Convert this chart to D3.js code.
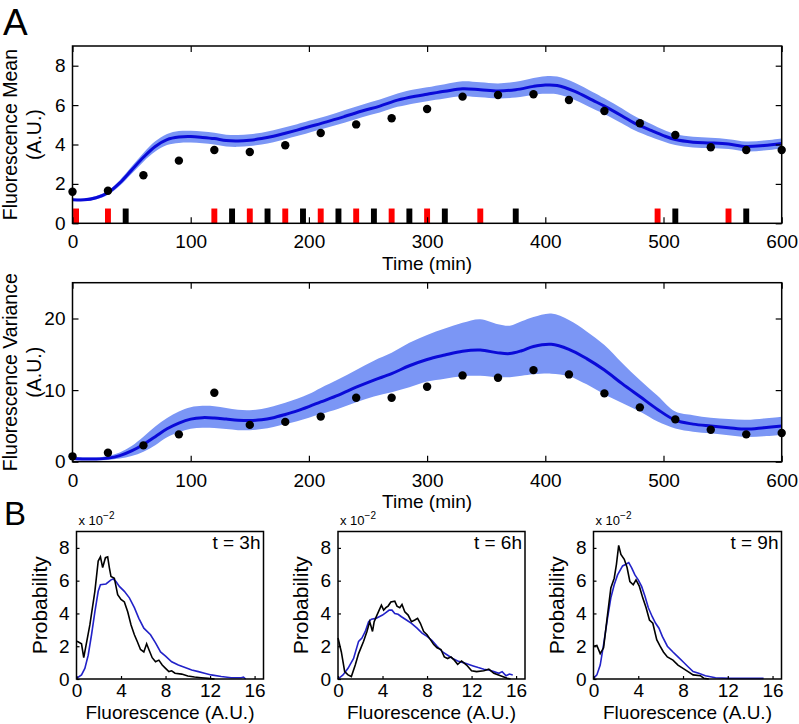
<!DOCTYPE html>
<html><head><meta charset="utf-8">
<script src="https://cdn.jsdelivr.net/npm/d3@7/dist/d3.min.js"></script>
<style>
body{margin:0;background:#fff;}
svg text{font-family:"Liberation Sans",Arial,Helvetica,sans-serif;fill:#000;}
</style></head><body>
<svg id="chart" width="799" height="724"></svg>
<script>
// ---------- Panel A data ----------
const obsTime = [0,30,60,90,120,150,180,210,240,270,300,330,360,390,420,450,480,510,540,570,600];
const meanObs = [1.6,1.65,2.44,3.18,3.72,3.62,3.96,4.58,5.02,5.33,5.8,6.43,6.51,6.55,6.26,5.7,5.08,4.48,3.86,3.72,3.72];
const varObs  = [0.75,1.26,2.28,3.82,9.63,5.14,5.56,6.3,8.93,8.93,10.46,12.05,11.72,12.79,12.19,9.54,7.59,5.91,4.46,3.82,4.0];

const fitTimeM = [0,10,20,30,40,50,60,70,80,90,100,110,120,130,140,150,160,170,180,190,200,215,230,245,260,275,290,300,315,330,345,360,375,390,400,410,425,440,450,465,475,490,500,510,525,540,555,570,585,600];
const fitMean  = [1.2,1.19,1.3,1.55,2.05,2.7,3.35,3.9,4.25,4.38,4.4,4.36,4.3,4.2,4.18,4.22,4.3,4.42,4.57,4.73,4.9,5.15,5.42,5.7,5.95,6.25,6.45,6.55,6.7,6.83,6.78,6.72,6.78,6.95,7.02,7.0,6.7,6.25,5.95,5.45,5.1,4.7,4.45,4.25,4.12,4.08,4.02,3.9,3.95,4.05];
const fitMeanLo= [1.15,1.13,1.22,1.45,1.91,2.52,3.13,3.64,3.97,4.08,4.1,4.06,4.0,3.9,3.88,3.92,4.0,4.12,4.27,4.43,4.6,4.85,5.1,5.38,5.62,5.91,6.1,6.2,6.34,6.45,6.4,6.34,6.38,6.53,6.57,6.55,6.26,5.83,5.55,5.07,4.74,4.37,4.15,3.97,3.85,3.82,3.77,3.65,3.7,3.8];
const fitMeanHi= [1.25,1.25,1.38,1.65,2.19,2.88,3.57,4.16,4.53,4.68,4.7,4.66,4.6,4.5,4.48,4.52,4.6,4.72,4.87,5.03,5.2,5.45,5.74,6.02,6.28,6.59,6.8,6.9,7.06,7.21,7.16,7.1,7.18,7.37,7.47,7.45,7.14,6.67,6.35,5.83,5.46,5.03,4.75,4.53,4.39,4.34,4.27,4.15,4.2,4.3];

const fitTimeV = [0,10,20,30,40,50,60,70,80,90,100,110,120,130,140,150,160,170,180,190,200,210,225,240,255,270,285,300,315,330,345,360,370,380,390,405,420,435,450,465,480,495,510,525,540,555,570,585,600];
const fitVar   = [0.45,0.38,0.38,0.5,0.85,1.5,2.4,3.5,4.6,5.4,5.95,6.15,6.1,5.95,5.8,5.75,5.85,6.15,6.6,7.1,7.7,8.35,9.3,10.4,11.4,12.3,13.4,14.28,14.9,15.44,15.6,15.2,15.1,15.5,16.1,16.4,15.7,14.4,12.8,10.9,9.1,7.3,5.8,5.25,4.98,4.75,4.55,4.75,4.98];
const fitVarLo = [0.25,0.2,0.2,0.25,0.45,0.8,1.4,2.3,3.4,4.1,4.6,4.75,4.7,4.55,4.4,4.4,4.55,4.85,5.25,5.65,6.15,6.65,7.4,8.3,9.1,9.7,10.4,11.2,11.6,11.95,12.0,11.8,11.8,12.0,12.2,12.3,11.95,10.8,9.4,8.2,7.0,5.6,4.65,4.2,3.96,3.7,3.45,3.55,3.72];
const fitVarHi = [0.7,0.6,0.6,0.8,1.3,2.2,3.5,4.9,6.1,7.0,7.6,7.8,7.75,7.5,7.25,7.2,7.35,7.75,8.25,8.8,9.45,10.3,11.5,12.8,14.1,15.2,16.6,17.7,18.6,19.4,19.9,19.2,19.0,19.6,20.2,20.7,19.8,18.2,16.3,13.8,11.4,9.2,7.0,6.5,6.14,5.95,5.85,6.05,6.28];

const redTimes   = [3,30,120,150,180,210,240,270,300,345,495,555];
const blackTimes = [45,135,165,195,225,255,285,315,375,510,570];

const timeTicks = [0,100,200,300,400,500,600];
const meanTicks = [0,2,4,6,8];
const varTicks  = [0,10,20];

// ---------- Panel B data ----------
const histLabels = ["t = 3h","t = 6h","t = 9h"];
const hist3hObsF = [0.05,0.45,0.65,1.2,1.65,1.95,2.15,2.35,2.6,2.8,2.95,3.1,3.4,3.7,4.0,4.3,4.6,4.9,5.2,5.45,5.75,6.05,6.3,6.5,6.8,7.1,7.4,7.7,8.0,8.3,8.55,8.85,9.45,10.0,10.6,11.2,11.8,12.4];
const hist3hObsP = [2.3,2.15,1.3,3.3,5.35,7.2,7.45,6.8,7.4,7.45,6.8,6.25,6.15,5.15,4.85,4.7,4.1,3.3,2.7,2.3,1.8,1.65,2.15,1.8,1.3,1.05,1.15,0.85,0.65,0.45,0.5,0.35,0.3,0.18,0.12,0.08,0.04,0.0];
const hist3hFitF = [0,0.45,0.75,1.05,1.35,1.65,1.95,2.15,2.65,3.1,3.3,3.55,3.85,4.3,4.75,5.2,5.6,6.05,6.65,7.1,7.55,8.0,8.55,9.15,9.75,10.35,10.95,11.5,12.1,13.0,13.9,14.8,15.0,15.2];
const hist3hFitP = [0.04,0.25,0.65,1.45,2.7,4.1,5.35,5.75,5.8,6.05,6.1,5.95,5.65,5.35,4.95,4.35,3.7,3.1,2.7,2.2,1.65,1.4,1.05,0.85,0.7,0.55,0.45,0.35,0.25,0.15,0.08,0.08,0.12,0.0];

const hist6hObsF = [0,0.3,0.6,0.9,1.2,1.55,1.85,2.3,2.6,2.85,3.1,3.25,3.5,3.7,3.9,4.1,4.3,4.5,4.75,5.1,5.3,5.55,5.75,6.0,6.3,6.6,6.9,7.15,7.4,7.7,8.0,8.3,8.6,8.9,9.25,9.55,9.85,10.15,10.45,10.75,11.1,11.55,12.0,12.45,13.1,13.55,14.0,14.6,15.2,15.5];
const hist6hObsP = [2.5,1.65,0.45,0.25,0.15,0.85,1.55,2.3,2.9,3.5,2.9,3.5,3.9,4.2,4.5,4.2,4.35,4.45,4.7,4.75,4.45,4.35,4.55,4.1,3.9,3.5,3.6,3.7,3.4,2.9,2.7,2.4,2.1,1.9,1.8,1.35,1.25,1.35,1.15,0.9,1.1,0.85,0.5,0.45,0.5,0.6,0.35,0.2,0.05,0];
const hist6hFitF = [0,0.45,0.9,1.4,1.85,2.15,2.45,2.75,3.0,3.4,3.7,4.0,4.3,4.6,4.85,5.1,5.4,5.7,6.15,6.6,7.1,7.55,8.0,8.45,8.9,9.4,9.85,10.3,10.75,11.25,11.7,12.15,12.6,13.1,13.55,14.0,14.45,14.75,15.1,15.4,15.7];
const hist6hFitP = [0,0.25,0.65,1.25,2.3,2.5,2.9,3.5,3.65,3.7,3.8,3.9,4.05,4.2,4.2,4.0,3.95,3.8,3.6,3.4,3.1,2.8,2.6,2.35,2.0,1.65,1.45,1.25,1.1,1.0,0.9,0.8,0.7,0.6,0.55,0.45,0.35,0.45,0.2,0.3,0.25];

const hist9hObsF = [0,0.3,0.6,0.9,1.25,1.55,1.85,2.05,2.25,2.45,2.75,3.0,3.25,3.55,3.8,4.1,4.4,4.7,5.0,5.3,5.65,5.95,6.25,6.6,7.1,7.55,8.0,8.45,8.9,9.55,9.85,10.3];
const hist9hObsP = [2.0,2.05,1.55,1.9,3.9,5.55,6.15,7.0,8.15,7.6,7.3,6.8,5.95,5.75,6.05,5.65,4.95,4.35,3.6,3.4,2.4,2.0,1.65,1.35,1.15,0.85,0.65,0.45,0.25,0.2,0.05,0];
const hist9hFitF = [0,0.3,0.6,0.9,1.25,1.55,1.85,2.15,2.6,2.9,3.15,3.4,3.7,4.0,4.3,4.6,4.9,5.25,5.55,5.85,6.15,6.6,7.1,7.55,8.0,8.45,8.9,9.4,10.0,10.9,12.15,15.2];
const hist9hFitP = [0.04,0.25,0.85,2.1,3.7,4.95,5.75,6.35,6.9,7.0,7.1,6.8,6.35,6.05,5.65,5.05,4.35,3.8,3.4,3.1,2.6,2.0,1.65,1.35,1.05,0.75,0.45,0.35,0.2,0.08,0.04,0.04];

const fluorTicks = [0,4,8,12,16];
const probTicks  = [0,2,4,6,8];

// ---------- drawing ----------
const svg = d3.select("#chart");
const FONT = '"Liberation Sans",Arial,Helvetica,sans-serif';
const BAND = "#7b96f5", LINE = "#0a0ad8", HISTBLUE = "#2222c8";

function zip(a,b){ return a.map((v,i)=>[v,b[i]]); }

function drawAxes(g, x, y, xt, yt, o){
  const [y0,y1] = y.range(), [x0,x1] = x.range();
  const style = sel => {
    sel.select(".domain").remove();
    sel.attr("font-family", FONT).attr("font-size", o.fs);
    sel.selectAll("line").attr("stroke","#000").attr("stroke-width",1.2);
    sel.selectAll("text").attr("fill","#000");
  };
  g.append("g").attr("transform",`translate(0,${y0})`)
    .call(d3.axisBottom(x).tickValues(xt).tickSizeInner(-o.tl).tickSizeOuter(0).tickPadding(o.xpad)).call(style);
  g.append("g").attr("transform",`translate(${x0},0)`)
    .call(d3.axisLeft(y).tickValues(yt).tickSizeInner(-o.tl).tickSizeOuter(0).tickPadding(o.ypad)).call(style);
  if (o.mirror){
    g.append("g").attr("transform",`translate(0,${y1})`)
      .call(d3.axisTop(x).tickValues(xt).tickSizeInner(-o.tl).tickSizeOuter(0).tickFormat("")).call(style);
    g.append("g").attr("transform",`translate(${x1},0)`)
      .call(d3.axisRight(y).tickValues(yt).tickSizeInner(-o.tl).tickSizeOuter(0).tickFormat("")).call(style);
  }
  g.append("rect").attr("x",x0).attr("y",y1).attr("width",x1-x0).attr("height",y0-y1)
    .attr("fill","none").attr("stroke","#000").attr("stroke-width",1.5);
}

// Panel A scales
const xT = d3.scaleLinear().domain([0,600]).range([72.5,781.7]);
const yM = d3.scaleLinear().domain([0,9]).range([223.3,46]);
const yV = d3.scaleLinear().domain([0,25]).range([461.7,282.7]);

function timePanel(y, fitT, fit, lo, hi, obs, ticks, withBars, labelLines){
  const g = svg.append("g");
  g.append("path")
    .attr("d", d3.area().x((d,i)=>xT(fitT[i])).y0((d,i)=>y(lo[i])).y1((d,i)=>y(hi[i])).curve(d3.curveCatmullRom)(fitT))
    .attr("fill", BAND);
  g.append("path")
    .attr("d", d3.line().x((d,i)=>xT(fitT[i])).y((d,i)=>y(fit[i])).curve(d3.curveCatmullRom)(fitT))
    .attr("fill","none").attr("stroke",LINE).attr("stroke-width",3);
  if (withBars){
    const bar = (times, col) => g.selectAll(null).data(times).enter().append("rect")
      .attr("x", d=>xT(d-2.5)).attr("width", d=>xT(d+2.5)-xT(d-2.5))
      .attr("y", y(0.75)).attr("height", y(0)-y(0.75)).attr("fill", col);
    bar(redTimes, "#ff0000");
    bar(blackTimes, "#000");
  }
  drawAxes(g, xT, y, timeTicks, ticks, {fs:19, tl:6, xpad:11.5, ypad:7, mirror:true});
  g.selectAll(null).data(obsTime).enter().append("circle")
    .attr("cx", d=>xT(d)).attr("cy", (d,i)=>y(obs[i])).attr("r",4.2).attr("fill","#000");
  const cy = (y.range()[0]+y.range()[1])/2;
  const lab = g.append("text").attr("transform",`translate(17,${cy}) rotate(-90)`)
    .attr("text-anchor","middle").attr("font-size",19.5);
  lab.append("tspan").attr("x",0).attr("dy",0).text(labelLines[0]);
  lab.append("tspan").attr("x",0).attr("dy",23.5).text(labelLines[1]);
  g.append("text").attr("x",(xT.range()[0]+xT.range()[1])/2).attr("y",y.range()[0]+46.5)
    .attr("text-anchor","middle").attr("font-size",19).text("Time (min)");
}

timePanel(yM, fitTimeM, fitMean, fitMeanLo, fitMeanHi, meanObs, meanTicks, true, ["Fluorescence Mean","(A.U.)"]);
timePanel(yV, fitTimeV, fitVar, fitVarLo, fitVarHi, varObs, varTicks, false, ["Fluorescence Variance","(A.U.)"]);

svg.append("text").attr("x",3).attr("y",35).attr("font-size",37).text("A");
svg.append("text").attr("x",4).attr("y",525).attr("font-size",33).text("B");

// Panel B
const histDefs = [
  {left:76.5, width:187, obsF:hist3hObsF, obsP:hist3hObsP, fitF:hist3hFitF, fitP:hist3hFitP, label:histLabels[0]},
  {left:338,  width:187, obsF:hist6hObsF, obsP:hist6hObsP, fitF:hist6hFitF, fitP:hist6hFitP, label:histLabels[1]},
  {left:593.5,width:188, obsF:hist9hObsF, obsP:hist9hObsP, fitF:hist9hFitF, fitP:hist9hFitP, label:histLabels[2]}
];
const hTop = 531.5, hBot = 679;
histDefs.forEach(h=>{
  const g = svg.append("g");
  const x = d3.scaleLinear().domain([0,16.8]).range([h.left, h.left+h.width]);
  const y = d3.scaleLinear().domain([0,9]).range([hBot, hTop]);
  const ln = d3.line().x(d=>x(d[0])).y(d=>y(d[1]));
  g.append("path").attr("d", ln(zip(h.fitF,h.fitP))).attr("fill","none").attr("stroke",HISTBLUE).attr("stroke-width",1.6);
  g.append("path").attr("d", ln(zip(h.obsF,h.obsP))).attr("fill","none").attr("stroke","#000").attr("stroke-width",1.6);
  drawAxes(g, x, y, fluorTicks, probTicks, {fs:19, tl:3, xpad:4.5, ypad:7, mirror:false});
  g.append("text").attr("x", h.left+h.width-3).attr("y", 549).attr("text-anchor","end").attr("font-size",19).text(h.label);
  const t = g.append("text").attr("x", h.left+2).attr("y", 525).attr("font-size",13);
  t.append("tspan").text("x 10");
  t.append("tspan").attr("dy",-6).attr("font-size",10).text("\u22122");
  g.append("text").attr("transform",`translate(${h.left-30},${(hTop+hBot)/2}) rotate(-90)`)
    .attr("text-anchor","middle").attr("font-size",21).text("Probability");
  g.append("text").attr("x", h.left+h.width/2).attr("y", 718.5).attr("text-anchor","middle").attr("font-size",19).text("Fluorescence (A.U.)");
});
</script>
</body></html>
